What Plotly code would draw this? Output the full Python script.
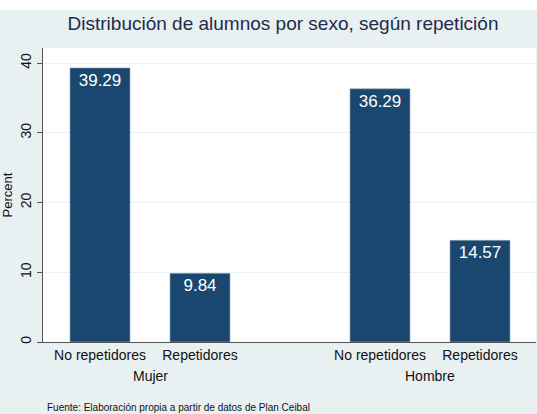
import plotly.graph_objects as go

categories = ["No repetidores", "Repetidores", "No repetidores", "Repetidores"]
groups = ["Mujer", "Hombre"]
values = [39.29, 9.84, 36.29, 14.57]
positions = [1.0, 2.0, 3.8, 4.8]
y_ticks = [0, 10, 20, 30, 40]

NAVY = "#1A476F"
BG = "#E9F0F2"
FONT = "Liberation Sans, Arial, sans-serif"
TOP_STRIP = 10  # white band above the graph region

fig = go.Figure()
fig.add_trace(go.Bar(
    x=positions, y=values, width=0.6,
    marker=dict(color=NAVY, line=dict(color="#8FA6B8", width=0.6)),
    text=[f"{v:.2f}" for v in values],
    textposition="inside", insidetextanchor="end",
    textfont=dict(color="white", size=17, family=FONT),
    constraintext="none",
    hoverinfo="skip",
))

H = 414 - TOP_STRIP
fig.update_layout(
    width=537, height=H,
    margin=dict(l=43, r=1, t=48 - TOP_STRIP, b=72),
    paper_bgcolor=BG, plot_bgcolor="white",
    showlegend=False,
    font=dict(family=FONT, color="#111111"),
    uniformtext=dict(minsize=17, mode="show"),
    title=dict(text="Distribución de alumnos por sexo, según repetición",
               x=283/537, xanchor="center", xref="container",
               y=1-(23 - TOP_STRIP)/H, yanchor="middle", yref="container",
               font=dict(size=19, color="#1E2B4A", family=FONT)),
)

fig.update_xaxes(
    range=[0.43, 5.36], tickvals=positions, ticktext=categories,
    showgrid=False, zeroline=False, showline=True, linecolor="#555555", linewidth=1,
    ticks="", tickfont=dict(size=14, color="#111111"), fixedrange=True,
)
fig.update_yaxes(
    range=[0, 42.15], tickvals=y_ticks, ticktext=[str(t) for t in y_ticks],
    tickangle=-90, ticks="outside", ticklen=5, tickcolor="#555555",
    showgrid=True, gridcolor="#EAF1F3", gridwidth=1,
    zeroline=False, showline=True, linecolor="#555555", linewidth=1,
    tickfont=dict(size=14, color="#111111"), fixedrange=True,
    title=dict(text="Percent", font=dict(size=13, color="#111111"), standoff=4),
)

# group labels
for g, (a, b) in zip(groups, [(positions[0], positions[1]), (positions[2], positions[3])]):
    fig.add_annotation(x=(a + b) / 2, xref="x", y=-(376-342)/294, yref="paper",
                       text=g, showarrow=False, yanchor="middle",
                       font=dict(size=14, color="#111111", family=FONT))

fig.add_annotation(x=2/493, xref="paper", y=-(407-342)/294, yref="paper",
                   text="Fuente: Elaboración propia a partir de datos de Plan Ceibal",
                   showarrow=False, xanchor="left", yanchor="middle",
                   font=dict(size=10, color="#111111", family=FONT))

fig.write_html("out.html", config={"displayModeBar": False},
               post_script=f"document.body.style.margin='{TOP_STRIP}px 0 0 0';"
                           "document.body.style.background='white';"
                           "document.documentElement.style.background='white';")
